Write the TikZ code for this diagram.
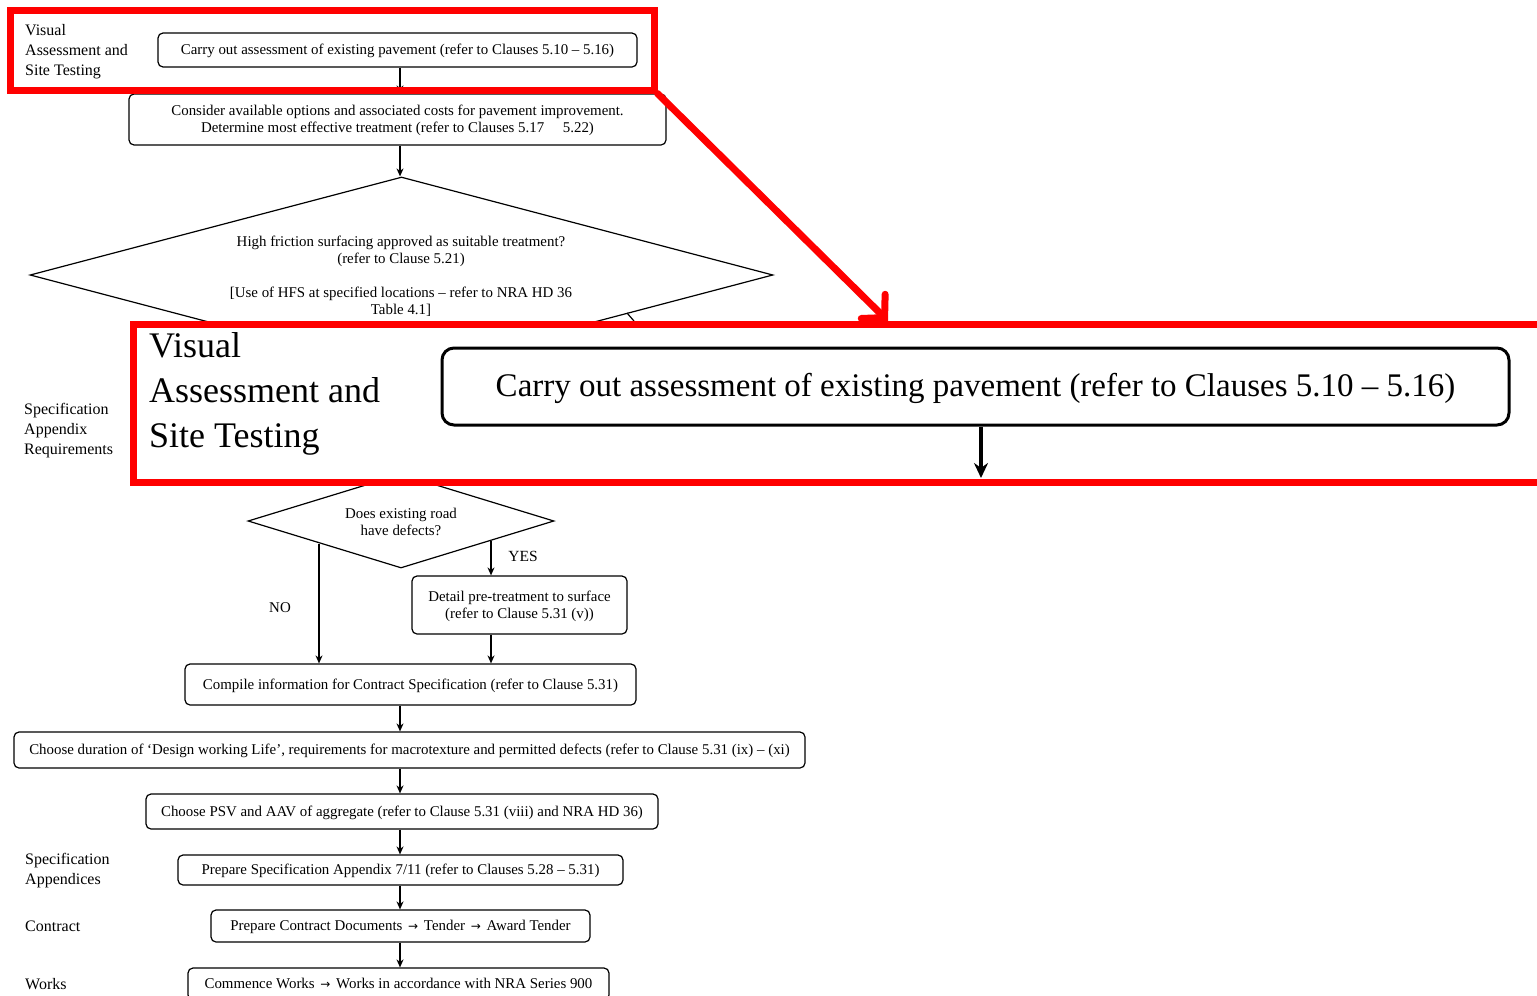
\documentclass[tikz,border=0pt]{standalone}
\usepackage{fontspec}
\setmainfont{Liberation Serif}
\newfontfamily\symfont{DejaVu Sans}
\newcommand{\rarr}{\hspace{2pt}{\symfont\fontsize{12}{14}\selectfont\char"2192}\hspace{2pt}}
\usetikzlibrary{shapes.geometric,arrows.meta}
\begin{document}
\begin{tikzpicture}[x=1pt,y=-1pt,
  box/.style={draw, rounded corners=5pt, line width=1.2pt, font=\fontsize{14.9}{17}\selectfont, align=center, inner sep=0pt, text depth=1pt},
  dia/.style={draw, diamond, line width=1.2pt, inner sep=0pt},
  dtext/.style={font=\fontsize{14.9}{17}\selectfont, align=center, inner sep=0pt},
  lbl/.style={font=\fontsize{16}{20}\selectfont, align=left, anchor=west, inner sep=0pt},
  arr/.style={-{Stealth[length=8pt,width=7pt]}, line width=1.3pt},
  redframe/.style={draw=red, line width=7pt},
  bigbox/.style={draw, rounded corners=12pt, line width=3pt, font=\fontsize{33}{38}\selectfont, inner sep=0pt},
  biglbl/.style={font=\fontsize{36}{45}\selectfont, align=left, anchor=west, inner sep=0pt},
  bigarr/.style={-{Stealth[length=15pt,width=14pt]}, line width=3.5pt}
]
\useasboundingbox (0,0) rectangle (1537,996);
\clip (0,0) rectangle (1537,996);
\coordinate (mid) at (400,0);

% left labels
\node[lbl] (l1) at (25,52) {Visual\\Assessment and\\Site Testing};
\node[lbl] (l2) at (24,431) {Specification\\Appendix\\Requirements};
\node[lbl] (l3) at (25,871) {Specification\\Appendices};
\node[lbl] (l4) at (25,926) {Contract};
\node[lbl] (l5) at (25,984) {Works};

% boxes
\node[box, minimum width=479, minimum height=34] (b1) at (397.5,50) {Carry out assessment of existing pavement (refer to Clauses 5.10 -- 5.16)};
\node[box, minimum width=537, minimum height=51] (b2) at (397.5,119.5) {Consider available options and associated costs for pavement improvement.\\Determine most effective treatment (refer to Clauses 5.17 \quad 5.22)};
\node[dia, minimum width=743, minimum height=196] (d1) at (401.5,275) {};
\node[dtext] (d1t) at (401,276) {High friction surfacing approved as suitable treatment?\\(refer to Clause 5.21)\\[17pt][Use of HFS at specified locations -- refer to NRA HD 36\\Table 4.1]};
\coordinate (tk1) at (627,313);
\coordinate (tk2) at (634,321);
\draw[line width=1.2pt] (tk1) -- (tk2);

\node[dia, minimum width=306, minimum height=94] (d2) at (401,521) {};
\node[dtext] (d2t) at (401,522) {Does existing road\\have defects?};
\node[box, minimum width=215, minimum height=58] (det) at (519.5,605) {Detail pre-treatment to surface\\(refer to Clause 5.31 (v))};
\node[box, minimum width=451, minimum height=41] (comp) at (410.5,684.5) {Compile information for Contract Specification (refer to Clause 5.31)};
\node[box, minimum width=791, minimum height=36] (dur) at (409.5,750) {Choose duration of `Design working Life', requirements for macrotexture and permitted defects (refer to Clause 5.31 (ix) -- (xi)};
\node[box, minimum width=512, minimum height=35] (psv) at (402,811.5) {Choose PSV and AAV of aggregate (refer to Clause 5.31 (viii) and NRA HD 36)};
\node[box, minimum width=445, minimum height=30] (prep) at (400.5,870) {Prepare Specification Appendix 7/11 (refer to Clauses 5.28 -- 5.31)};
\node[box, minimum width=379, minimum height=32] (con) at (400.5,926) {Prepare Contract Documents \rarr{} Tender \rarr{} Award Tender};
\node[box, minimum width=421, minimum height=32] (works) at (398.5,984) {Commence Works \rarr{} Works in accordance with NRA Series 900};

% connectors
\draw[arr] (b1.south -| mid) -- (b2.north -| mid);
\draw[arr] (b2.south -| mid) -- (d1.north -| mid);
\coordinate (noS) at (319,544);
\coordinate (yesS) at (491,541);
\draw[arr] (noS) -- (noS |- comp.north);
\draw[arr] (yesS) -- (yesS |- det.north);
\draw[arr] (yesS |- det.south) -- (yesS |- comp.north);
\node[dtext] (no) at (280,608) {NO};
\node[dtext, font=\fontsize{15.5}{17}\selectfont] (yes) at (523,556) {YES};
\draw[arr] (comp.south -| mid) -- (dur.north -| mid);
\draw[arr] (dur.south -| mid) -- (psv.north -| mid);
\draw[arr] (psv.south -| mid) -- (prep.north -| mid);
\draw[arr] (prep.south -| mid) -- (con.north -| mid);
\draw[arr] (con.south -| mid) -- (works.north -| mid);

% magnified callout
\node[redframe, fill=white, minimum width=1412, minimum height=158, inner sep=0pt] (zdst) at (839,403) {};
\node[biglbl] (bl) at (149,394) {Visual\\Assessment and\\Site Testing};
\node[bigbox, minimum width=1067, minimum height=77, text depth=3pt] (bb) at (975.5,386.5) {Carry out assessment of existing pavement (refer to Clauses 5.10 -- 5.16)};
\coordinate (bbx) at (981,0);
\coordinate (bbend) at (981,478);
\draw[bigarr] (bb.south -| bbx) -- (bbend);

\node[redframe, minimum width=644, minimum height=80, inner sep=0pt] (zsrc) at (332,50) {};
\coordinate (ztip) at (888,321);
\draw[redframe, line cap=round, -{Straight Barb[length=16pt,width=34pt,line cap=round]}] (zsrc.south east) -- (ztip);
\end{tikzpicture}
\end{document}
